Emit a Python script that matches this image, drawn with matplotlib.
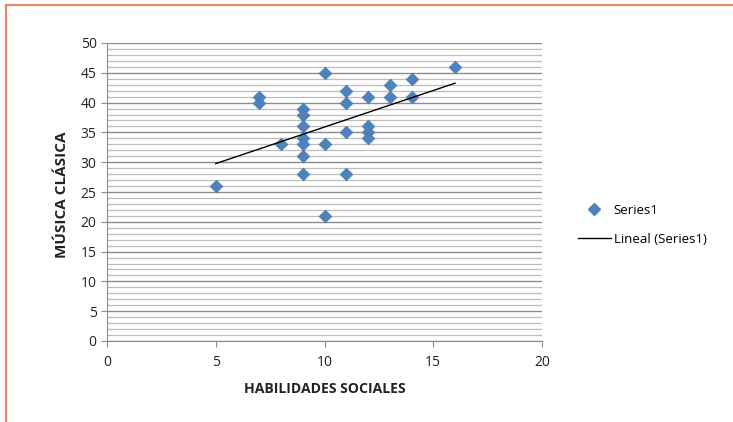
import matplotlib
matplotlib.use("Agg")
import matplotlib.pyplot as plt
import numpy as np
from matplotlib.lines import Line2D

habilidades = [5, 7, 7, 8, 9, 9, 9, 9, 9, 9, 9, 10, 10, 10, 11, 11, 11, 11,
               12, 12, 12, 12, 13, 13, 14, 14, 16]
musica = [26, 41, 40, 33, 39, 38, 36, 34, 33, 31, 28, 45, 33, 21, 42, 40, 35, 28,
          41, 36, 35, 34, 43, 41, 44, 41, 46]
x_ticks = [0, 5, 10, 15, 20]
y_ticks = [0, 5, 10, 15, 20, 25, 30, 35, 40, 45, 50]

plt.rcParams['font.family'] = ['Open Sans', 'DejaVu Sans']

fig = plt.figure(figsize=(7.33, 4.22), dpi=100)
ax = fig.add_axes([107/733, 81/422, (542-107)/733, (341-43)/422])

# gridlines
for v in range(0, 51):
    if v % 5 == 0:
        ax.axhline(v, color='#8c8c8c', lw=1.0, zorder=0)
    else:
        ax.axhline(v, color='#bdbdbd', lw=0.9, zorder=0)

x = np.array(habilidades, dtype=float)
y = np.array(musica, dtype=float)
ax.scatter(x, y, marker='D', s=42, color='#4f81bd', edgecolors='#4a7ab5',
           linewidths=0.5, zorder=3)

m, b = np.polyfit(x, y, 1)
xs = np.array([x.min(), x.max()])
ax.plot(xs, m * xs + b, color='black', lw=1.0, zorder=4)

ax.set_xlim(0, 20)
ax.set_ylim(0, 50)
ax.set_xticks(x_ticks)
ax.set_yticks(y_ticks)
ax.tick_params(axis='both', labelsize=10, color='#8c8c8c', length=4,
               labelcolor='#222222')
ax.tick_params(axis='x', pad=6)
for s in ['top', 'right']:
    ax.spines[s].set_visible(False)
for s in ['left', 'bottom']:
    ax.spines[s].set_color('#8c8c8c')

ax.set_xlabel('HABILIDADES SOCIALES', fontsize=10.1, fontweight='bold',
              color='#222222')
ax.set_ylabel('MÚSICA CLÁSICA', fontsize=11, fontweight='bold',
              color='#222222')
ax.xaxis.set_label_coords(0.5, -(389 - 341) / (341 - 43), transform=ax.transAxes)
ax.yaxis.set_label_coords(-(107 - 62) / (542 - 107), (341 - 195) / (341 - 43),
                          transform=ax.transAxes)
ax.xaxis.label.set_va('center')
ax.yaxis.label.set_va('center')

handles = [Line2D([], [], marker='D', ls='none', color='#4f81bd', markersize=6),
           Line2D([], [], color='black', lw=1.0)]
fig.legend(handles, ['Series1', 'Lineal (Series1)'], loc='upper left',
           bbox_to_anchor=(566/733, 1 - 192/422), frameon=False, fontsize=9.5,
           handlelength=2.5, labelspacing=1.2, handletextpad=0.2)

# outer border (top and left)
fig.add_artist(Line2D([6/733, 1], [1 - 5/422, 1 - 5/422], color='#e8866a', lw=1.5,
                      transform=fig.transFigure))
fig.add_artist(Line2D([6/733, 6/733], [0, 1 - 5/422], color='#e8866a', lw=1.5,
                      transform=fig.transFigure))

fig.savefig('out.png', dpi=100)
